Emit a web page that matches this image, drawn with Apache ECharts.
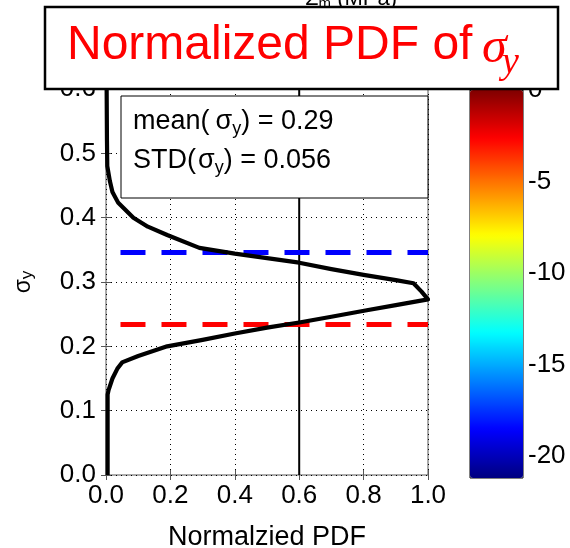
<!DOCTYPE html>
<html><head><meta charset="utf-8">
<script src="https://cdn.jsdelivr.net/npm/echarts@6/dist/echarts.min.js"></script>
<style>html,body{margin:0;padding:0;background:#fff}#c{width:570px;height:548px}</style>
</head><body><div id="c"></div>
<script>
// ---- data ----
const pdfValues = [0.005,0.005,0.008,0.02,0.035,0.05,0.1,0.19,0.3,0.4,0.5,0.6,0.7,0.81,0.9,1.0,0.98,0.955,0.9,0.8,0.7,0.6,0.5,0.4,0.29,0.19,0.13,0.085,0.038,0.02,0.012,0.004,0.003,0.002];
const sigmaValues = [0.0,0.125,0.132,0.15,0.165,0.175,0.185,0.2,0.21,0.22,0.229,0.237,0.246,0.256,0.264,0.273,0.285,0.298,0.303,0.311,0.32,0.33,0.337,0.344,0.353,0.373,0.386,0.40,0.423,0.44,0.457,0.48,0.52,0.6];
const upperSigma = 0.346;   // mean + STD (blue)
const lowerSigma = 0.234;   // mean - STD (red)
const dashFrom = 0.045, dashTo = 1.0;
const refPdf = 0.6;
const xTickLabels = ['0.0','0.2','0.4','0.6','0.8','1.0'];
const yTickLabels = ['0.0','0.1','0.2','0.3','0.4','0.5','0.6'];
const cbMin = -21.2, cbMax = 0;
const cbTicks = [0,-5,-10,-15,-20];
const jet = ['#000080','#0000ff','#0080ff','#00ffff','#80ff80','#ffff00','#ff8000','#ff0000','#800000'];
const meanText = '0.29', stdText = '0.056';

const curve = pdfValues.map((v,i)=>[v, sigmaValues[i]]);
const F = 'Liberation Sans, Arial, sans-serif';
const SERIF = 'Liberation Serif, DejaVu Serif, serif';
const frame = '#555';

const chart = echarts.init(document.getElementById('c'), null, {renderer:'canvas'});
chart.setOption({
  animation:false,
  backgroundColor:'#fff',
  grid:[
    {left:106, right:142, top:89, bottom:73, show:true, borderColor:frame, borderWidth:1, backgroundColor:'transparent', containLabel:false, outerBoundsMode:'none'},
    {left:470, width:53, top:90, height:388, show:true, borderColor:'#000', borderWidth:1, backgroundColor:'transparent', containLabel:false, outerBoundsMode:'none'}
  ],
  xAxis:[
    {type:'value', gridIndex:0, min:0, max:1, interval:0.2, position:'bottom',
     axisLine:{show:false}, axisTick:{show:true, inside:true, length:5, lineStyle:{color:frame}},
     axisLabel:{fontSize:26, color:'#000', fontFamily:F, margin:8, formatter:v=>xTickLabels[Math.round(v/0.2)]},
     splitLine:{show:true, lineStyle:{color:'#000', type:[1,4], width:1}},
     name:'Normalzied PDF', nameLocation:'middle', nameGap:49, nameMoveOverlap:false, nameTextStyle:{fontSize:27, color:'#000', fontFamily:F}},
    {type:'value', gridIndex:0, min:0, max:1, interval:0.2, position:'top',
     axisLine:{show:false}, axisTick:{show:true, inside:true, length:5, lineStyle:{color:frame}},
     axisLabel:{show:false}, splitLine:{show:false}},
    {type:'category', gridIndex:1, data:['c'], show:false}
  ],
  yAxis:[
    {type:'value', gridIndex:0, min:0, max:0.6, interval:0.1, position:'left',
     axisLine:{show:false}, axisTick:{show:true, inside:true, length:5, lineStyle:{color:frame}},
     axisLabel:{fontSize:26, color:'#000', fontFamily:F, margin:10, formatter:v=>yTickLabels[Math.round(v/0.1)]},
     splitLine:{show:true, lineStyle:{color:'#000', type:[1,4], width:1}},
     name:'{a|σ}{b|y}', nameLocation:'middle', nameGap:70, nameRotate:90, nameMoveOverlap:false,
     nameTextStyle:{color:'#000', fontFamily:F, rich:{a:{fontSize:23, fontFamily:F, color:'#000'}, b:{fontSize:17, fontFamily:F, color:'#000', padding:[8,0,0,0]}}}},
    {type:'value', gridIndex:0, min:0, max:0.6, interval:0.1, position:'right',
     axisLine:{show:false}, axisTick:{show:true, inside:true, length:5, lineStyle:{color:frame}},
     axisLabel:{show:false}, splitLine:{show:false}},
    {type:'value', gridIndex:1, min:cbMin, max:cbMax, position:'right',
     axisLine:{show:false},
     axisTick:{show:true, inside:true, length:5, customValues:cbTicks, lineStyle:{color:'#000'}},
     axisLabel:{show:true, fontSize:26, color:'#000', fontFamily:F, margin:5, customValues:cbTicks, formatter:v=>String(v)},
     splitLine:{show:false}},
    {type:'value', gridIndex:1, min:cbMin, max:cbMax, position:'left',
     axisLine:{show:false},
     axisTick:{show:true, inside:true, length:5, customValues:cbTicks, lineStyle:{color:'#000'}},
     axisLabel:{show:false}, splitLine:{show:false}}
  ],
  visualMap:{type:'continuous', min:cbMin, max:cbMax, left:470, top:90, itemWidth:53, itemHeight:388,
    padding:0, calculable:false, text:null, showLabel:false, seriesIndex:5, orient:'vertical',
    inRange:{color:jet}},
  series:[
    {type:'line', xAxisIndex:0, yAxisIndex:0, data:[[refPdf,0],[refPdf,0.6]], symbol:'none',
     lineStyle:{color:'#000', width:2}, z:3, silent:true},
    {type:'line', xAxisIndex:0, yAxisIndex:0, data:[[dashFrom,upperSigma],[dashTo,upperSigma]], symbol:'none',
     lineStyle:{color:'#0000ff', width:5, type:[25,16]}, z:4},
    {type:'line', xAxisIndex:0, yAxisIndex:0, data:[[dashFrom,lowerSigma],[dashTo,lowerSigma]], symbol:'none',
     lineStyle:{color:'#ff0000', width:5, type:[25,16]}, z:4},
    {type:'line', xAxisIndex:0, yAxisIndex:0, data:curve, symbol:'none',
     lineStyle:{color:'#000', width:4.2, join:'round'}, z:5},
    {type:'scatter', xAxisIndex:2, yAxisIndex:2, data:[], silent:true},
    {type:'scatter', xAxisIndex:2, yAxisIndex:2, data:[], silent:true}
  ],
  graphic:[
    {type:'text', z:90, style:{x:305, y:-14, text:'{a|Σ}{b|m}{a| (MPa)}', fill:'#000',
      rich:{a:{fontSize:22, fontFamily:F, fill:'#000'}, b:{fontSize:15, fontFamily:F, fill:'#000', padding:[10,0,0,0]}}}},
    {type:'rect', z:100, shape:{x:121, y:96, width:307, height:102}, style:{fill:'#fff', stroke:'#000', lineWidth:1}},
    {type:'text', z:101, style:{x:133, y:122, verticalAlign:'middle',
      text:'{t|mean(}{s|σ}{u|y}{t|) = '+meanText+'}',
      rich:{t:{fontSize:27, fontFamily:F, fill:'#000'}, s:{fontSize:27, fontFamily:F, fill:'#000', padding:[0,0,0,6]}, u:{fontSize:18, fontFamily:F, fill:'#000', padding:[14,0,0,0]}}}},
    {type:'text', z:101, style:{x:133, y:161, verticalAlign:'middle',
      text:'{t|STD(}{s|σ}{u|y}{t|) = '+stdText+'}',
      rich:{t:{fontSize:27, fontFamily:F, fill:'#000'}, s:{fontSize:27, fontFamily:F, fill:'#000', padding:[0,0,0,2]}, u:{fontSize:18, fontFamily:F, fill:'#000', padding:[14,0,0,0]}}}},
    {type:'rect', z:110, shape:{x:45, y:7, width:513, height:82}, style:{fill:'#fff', stroke:'#000', lineWidth:2.5}},
    {type:'text', z:111, style:{x:67, y:46, verticalAlign:'middle', align:'left', text:'Normalized PDF of ', fill:'#ff0000', fontSize:48, fontFamily:F}},
    {type:'text', z:111, style:{x:482, y:49, verticalAlign:'middle', align:'left', text:'σ', fill:'#ff0000', fontSize:50, fontStyle:'italic', fontFamily:SERIF}},
    {type:'text', z:111, style:{x:502, y:63, verticalAlign:'middle', align:'left', text:'y', fill:'#ff0000', fontSize:38, fontStyle:'italic', fontFamily:SERIF}}
  ]
});
</script></body></html>
